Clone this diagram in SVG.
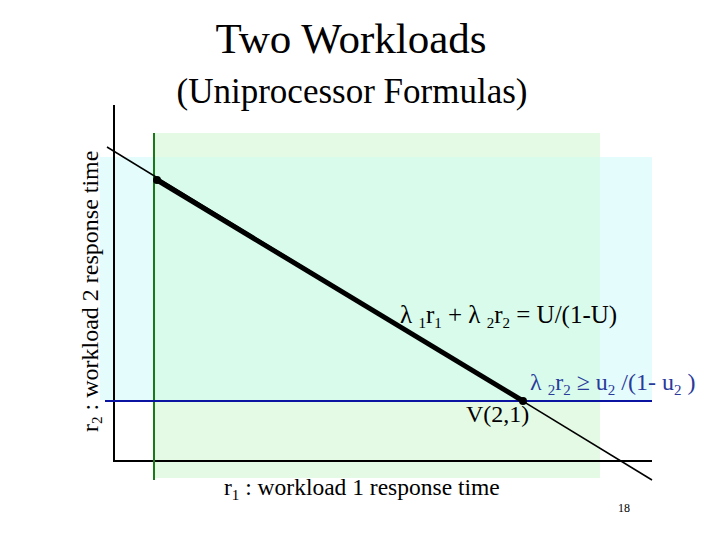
<svg xmlns="http://www.w3.org/2000/svg" width="720" height="540" viewBox="0 0 720 540">
<style>
text{font-family:"Liberation Serif",serif;fill:#000}
.ax{stroke:#000;stroke-width:2}
</style>
<rect width="720" height="540" fill="#fff"/>
<g id="regions">
<rect x="153" y="133" width="447" height="345" fill="#e4fae4"/>
<rect x="100" y="157" width="552" height="243" fill="#e4fcfc"/>
<rect x="153" y="157" width="447" height="243" fill="#d8fbec"/>
</g>
<g id="title">
<text x="351" y="53" font-size="43" text-anchor="middle">Two Workloads</text>
<text x="352" y="103" font-size="35" text-anchor="middle">(Uniprocessor Formulas)</text>
</g>
<g id="connectors">
<line class="ax" x1="114" y1="105" x2="114" y2="462"/>
<line class="ax" x1="113" y1="461" x2="652" y2="461"/>
<line x1="154" y1="133" x2="154" y2="480" stroke="#1a7a1a" stroke-width="2"/>
<line x1="105" y1="401" x2="652" y2="401" stroke="#0a14a0" stroke-width="2"/>
<line x1="107" y1="147" x2="652" y2="480" stroke="#000" stroke-width="1.5"/>
<line x1="157" y1="180" x2="523" y2="401" stroke="#000" stroke-width="5"/>
<circle cx="157" cy="180" r="4" fill="#000"/>
<circle cx="523" cy="401" r="4" fill="#000"/>
</g>
<g id="labels">
<text transform="translate(98,432) rotate(-90)" font-size="24">r<tspan font-size="15" dy="4">2</tspan><tspan dy="-4"> : workload 2 response time</tspan></text>
<text x="224" y="495" font-size="23.5">r<tspan font-size="15" dy="5">1</tspan><tspan dy="-5"> : workload 1 response time</tspan></text>
<text x="400" y="323" font-size="25">λ <tspan font-size="15" dy="5">1</tspan><tspan dy="-5">r</tspan><tspan font-size="15" dy="5">1</tspan><tspan dy="-5"> + λ </tspan><tspan font-size="15" dy="5">2</tspan><tspan dy="-5">r</tspan><tspan font-size="15" dy="5">2</tspan><tspan dy="-5"> = U/(1-U)</tspan></text>
<text x="530" y="390" font-size="24" style="fill:#2a3a9a">λ <tspan font-size="15" dy="5">2</tspan><tspan dy="-5">r</tspan><tspan font-size="15" dy="5">2</tspan><tspan dy="-5"> ≥ u</tspan><tspan font-size="15" dy="5">2</tspan><tspan dy="-5"> /(1- u</tspan><tspan font-size="15" dy="5">2</tspan><tspan dy="-5"> )</tspan></text>
<text x="466" y="422" font-size="24">V(2,1)</text>
<text x="618" y="512" font-size="12">18</text>
</g>
</svg>
